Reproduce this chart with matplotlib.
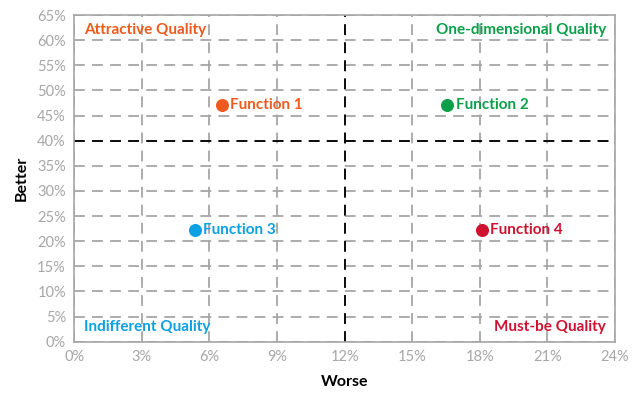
import matplotlib.pyplot as plt
from matplotlib.ticker import PercentFormatter

plt.rcParams["font.family"] = ["Lato", "DejaVu Sans"]

# data
names = ["Function 1", "Function 2", "Function 3", "Function 4"]
worse = [6.55, 16.55, 5.35, 18.1]
better = [47.0, 47.0, 22.3, 22.3]
colors = ["#EE5A1E", "#0B9F48", "#0AA0E2", "#CE1230"]

quadrants = ["Attractive Quality", "One-dimensional Quality", "Indifferent Quality", "Must-be Quality"]
quad_colors = colors

fig, ax = plt.subplots(figsize=(6.4, 3.95), dpi=100)
fig.subplots_adjust(left=0.116, right=0.961, top=0.962, bottom=0.135)

grey = "#a6a6a6"
ax.set_xlim(0, 24)
ax.set_ylim(0, 65)
ax.set_xticks(range(0, 25, 3))
ax.set_yticks(range(0, 66, 5))
ax.xaxis.set_major_formatter(PercentFormatter(decimals=0))
ax.yaxis.set_major_formatter(PercentFormatter(decimals=0))
ax.grid(True, color=grey, linestyle=(0, (6, 4)), linewidth=1.3)
ax.set_axisbelow(True)
ax.tick_params(length=0, colors=grey, labelsize=10.5, pad=6)
for s in ax.spines.values():
    s.set_color(grey)
    s.set_linewidth(1.2)

ax.axvline(12, color="black", linestyle=(0, (6, 4)), linewidth=1.3)
ax.axhline(40, color="black", linestyle=(0, (6, 4)), linewidth=1.3)

for n, x, y, c in zip(names, worse, better, colors):
    ax.scatter(x, y, s=70, color=c, zorder=3)
    ax.annotate(n, (x, y), xytext=(6, 0), textcoords="offset points",
                va="center", ha="left", color=c, fontsize=11, fontweight="bold")

ax.text(0.45, 63.5, quadrants[0], color=quad_colors[0], fontsize=11, fontweight="bold", va="top")
ax.text(23.6, 63.5, quadrants[1], color=quad_colors[1], fontsize=11, fontweight="bold", va="top", ha="right")
ax.text(0.45, 1.5, quadrants[2], color=quad_colors[2], fontsize=11, fontweight="bold", va="bottom")
ax.text(23.6, 1.5, quadrants[3], color=quad_colors[3], fontsize=11, fontweight="bold", va="bottom", ha="right")

ax.set_xlabel("Worse", fontsize=11.5, fontweight="bold", labelpad=8)
ax.set_ylabel("Better", fontsize=11.5, fontweight="bold", labelpad=6)

plt.savefig("out.png")
